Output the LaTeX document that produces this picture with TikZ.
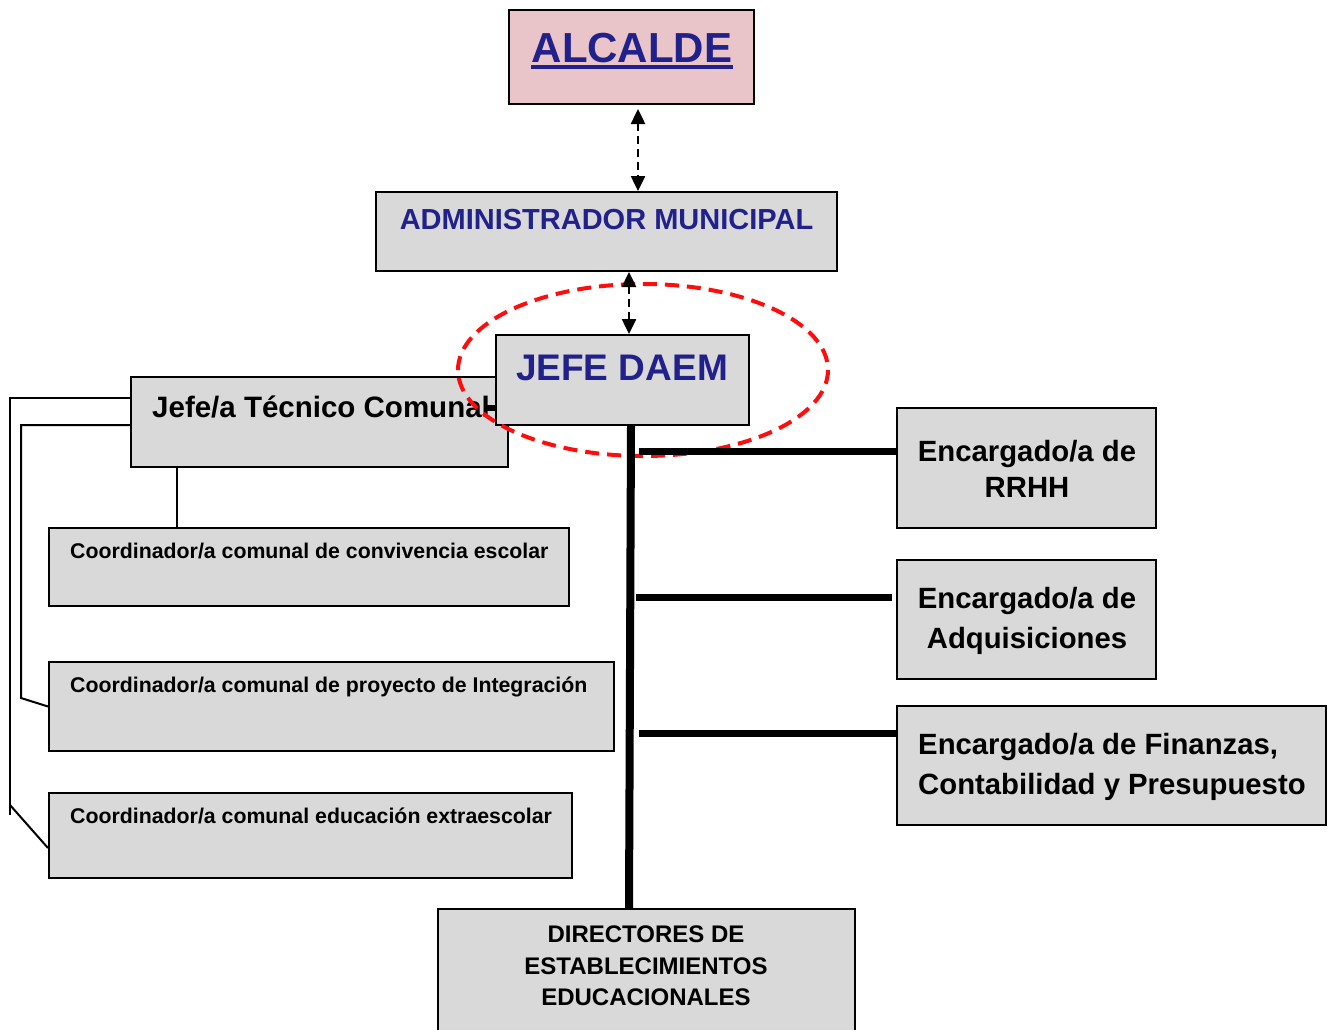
\documentclass[tikz,border=0pt]{standalone}
\usepackage{fontspec}
\setmainfont{Liberation Sans}
\usetikzlibrary{arrows.meta}
\definecolor{boxgray}{RGB}{217,217,217}
\definecolor{navy}{RGB}{33,33,140}
\definecolor{pinkfill}{RGB}{233,197,201}
\definecolor{ellred}{RGB}{255,12,12}
\begin{document}
\begin{tikzpicture}[x=1pt,y=-1pt,
  box/.style={draw=black, line width=2pt, fill=boxgray, inner sep=0pt},
  lbl/.style={inner sep=0pt, anchor=base, font=\bfseries},
  lbll/.style={inner sep=0pt, anchor=base west, font=\bfseries},
  dasharrow/.style={line width=2.5pt, dash pattern=on 8pt off 5pt,
    {Triangle[length=15pt,width=14pt]}-{Triangle[length=15pt,width=14pt]}},
  bar/.style={line width=7pt},
  vbar/.style={line width=8pt},
  thinline/.style={line width=2pt},
  redell/.style={draw=ellred, line width=4pt, dash pattern=on 14pt off 8pt}]
\useasboundingbox (0,0) rectangle (1333,1029);

% boxes
\node[box, fill=pinkfill, minimum width=245pt, minimum height=94pt] (alc) at (631.5,57) {};
\node[box, minimum width=461pt, minimum height=79pt] (adm) at (606.5,231.5) {};
\node[box, minimum width=377pt, minimum height=90pt] (jtc) at (319.5,422) {};
\coordinate (stub) at (486,408);
\draw[line width=6pt] (stub) -- (stub -| 496,0);
\node[box, minimum width=253pt, minimum height=90pt] (daem) at (622.5,380) {};
\node[box, minimum width=520pt, minimum height=78pt] (c1) at (309,567) {};
\node[box, minimum width=565pt, minimum height=89pt] (c2) at (331.5,706.5) {};
\node[box, minimum width=523pt, minimum height=85pt] (c3) at (310.5,835.5) {};
\node[box, minimum width=259pt, minimum height=120pt] (rrhh) at (1026.5,468) {};
\node[box, minimum width=259pt, minimum height=119pt] (adq) at (1026.5,619.5) {};
\node[box, minimum width=429pt, minimum height=119pt] (fin) at (1111.5,765.5) {};
\node[box, minimum width=417pt, minimum height=140pt] (dir) at (646.5,979) {};

% texts
\node[lbl, text=navy, font=\bfseries\fontsize{42}{48}\selectfont] (altx) at (632,62) {ALCALDE};
\draw[navy, line width=4pt] ([yshift=-5pt]altx.base west) -- ([yshift=-5pt]altx.base east);
\node[lbl, text=navy, font=\bfseries\fontsize{29}{34}\selectfont] (admtx) at (606.5,229) {ADMINISTRADOR MUNICIPAL};
\node[lbl, text=navy, font=\bfseries\fontsize{37}{42}\selectfont] (daemtx) at (622,380) {JEFE DAEM};
\node[lbll, font=\bfseries\fontsize{29.5}{34}\selectfont] (jtctx) at (152,417) {Jefe/a Técnico Comunal};
\node[lbll, font=\bfseries\fontsize{21.3}{25}\selectfont] (c1tx) at (70,558) {Coordinador/a comunal de convivencia escolar};
\node[lbll, font=\bfseries\fontsize{21.3}{25}\selectfont] (c2tx) at (70,692) {Coordinador/a comunal de proyecto de Integración};
\node[lbll, font=\bfseries\fontsize{21.3}{25}\selectfont] (c3tx) at (70,823) {Coordinador/a comunal educación extraescolar};
\node[lbl, font=\bfseries\fontsize{29.3}{34}\selectfont] (rrhhA) at (1027,461) {Encargado/a de};
\node[lbl, font=\bfseries\fontsize{29.3}{34}\selectfont] (rrhhB) at (1027,497) {RRHH};
\node[lbl, font=\bfseries\fontsize{29.3}{34}\selectfont] (adqA) at (1027,608) {Encargado/a de};
\node[lbl, font=\bfseries\fontsize{29.3}{34}\selectfont] (adqB) at (1027,648) {Adquisiciones};
\node[lbll, font=\bfseries\fontsize{29.3}{34}\selectfont] (finA) at (918,754) {Encargado/a de Finanzas,};
\node[lbll, font=\bfseries\fontsize{29.3}{34}\selectfont] (finB) at (918,794) {Contabilidad y Presupuesto};
\node[lbl, font=\bfseries\fontsize{24}{28}\selectfont] (dirA) at (646,942) {DIRECTORES DE};
\node[lbl, font=\bfseries\fontsize{24}{28}\selectfont] (dirB) at (646,974) {ESTABLECIMIENTOS};
\node[lbl, font=\bfseries\fontsize{24}{28}\selectfont] (dirC) at (646,1005) {EDUCACIONALES};

% red dashed ellipse
\draw[redell] (643,370) ellipse [x radius=185, y radius=86];

% dashed arrows
\draw[dasharrow] ([xshift=6.5pt,yshift=-4pt]alc.south) -- ([xshift=31.5pt]adm.north);
\draw[dasharrow] ([xshift=22.5pt]adm.south) -- ([xshift=6.5pt]daem.north);

% thick trunk and branches
\draw[vbar] ([xshift=8.5pt]daem.south) -- ([xshift=-17.5pt]dir.north);
\coordinate (h1) at (639,451);
\coordinate (h2) at (636,597);
\coordinate (h3) at (639,733);
\draw[bar] (h1) -- (h1 -| rrhh.west);
\draw[bar] (h2) -- ([xshift=-4pt]h2 -| adq.west);
\draw[bar] (h3) -- (h3 -| fin.west);

% thin left connectors
\draw[thinline] ([xshift=-142.5pt]jtc.south) -- ([xshift=-142.5pt]jtc.south |- c1.north);
\coordinate (o1) at (10,398);
\coordinate (o2) at (10,805);
\draw[thinline] (o1 -| jtc.west) -- (o1) -- (10,815);
\draw[thinline] (o2) -- ([yshift=-12.5pt]c3.west);
\coordinate (i1) at (21,425);
\draw[thinline] (i1 -| jtc.west) -- (i1) -- (21,698) -- (c2.west);
\end{tikzpicture}
\end{document}
